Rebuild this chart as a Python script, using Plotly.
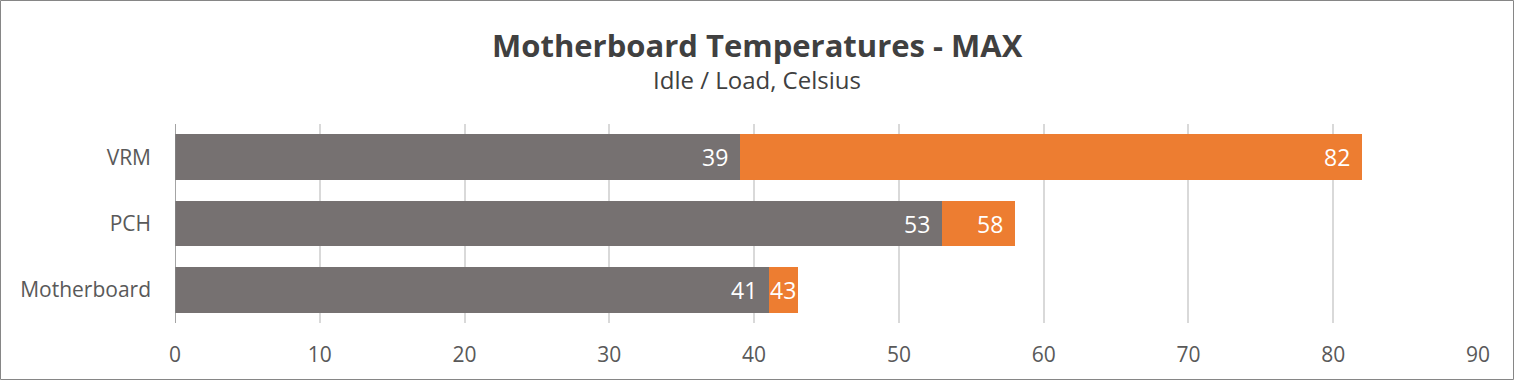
import plotly.graph_objects as go

categories = ["Motherboard", "PCH", "VRM"]
idle = [41, 53, 39]
load = [43, 58, 82]
x_ticks = [0, 10, 20, 30, 40, 50, 60, 70, 80, 90]

W, H = 1514, 380
L, R, T, B = 175, 36, 124, 57
pw, ph = W - L - R, H - T - B

FONT = "Open Sans"
LABEL_SIZE = 23

load_extra = [l - i for l, i in zip(load, idle)]

fig = go.Figure()
fig.add_trace(go.Bar(
    y=categories, x=idle, orientation="h", name="Idle",
    marker=dict(color="#767171", line=dict(width=0)), hoverinfo="skip",
))
fig.add_trace(go.Bar(
    y=categories, x=load_extra, orientation="h", name="Load",
    marker=dict(color="#ED7D31", line=dict(width=0)), hoverinfo="skip",
))

annotations = [
    dict(text="<b>Motherboard Temperatures - MAX</b>", xref="paper", yref="paper",
         x=(W / 2 - L) / pw, y=(H - B - 45) / ph, xanchor="center", yanchor="middle",
         showarrow=False, font=dict(size=31, color="#404040", family=FONT)),
    dict(text="Idle / Load, Celsius", xref="paper", yref="paper",
         x=(W / 2 - L) / pw, y=(H - B - 80) / ph, xanchor="center", yanchor="middle",
         showarrow=False, font=dict(size=24, color="#404040", family=FONT)),
]
for cat, i_val, l_val in zip(categories, idle, load):
    annotations.append(dict(
        text=str(i_val), x=i_val, y=cat, xref="x", yref="y",
        xanchor="right", yanchor="middle", xshift=-10, showarrow=False,
        font=dict(size=LABEL_SIZE, color="white", family=FONT)))
    small = (l_val - i_val) < 3
    annotations.append(dict(
        text=str(l_val), x=(l_val + i_val) / 2 if small else l_val, y=cat,
        xref="x", yref="y",
        xanchor="center" if small else "right", yanchor="middle",
        xshift=0 if small else -10, showarrow=False,
        font=dict(size=LABEL_SIZE, color="white", family=FONT)))

fig.update_layout(
    width=W, height=H,
    margin=dict(l=L, r=R, t=T, b=B, pad=0),
    barmode="stack", bargap=0.31,
    showlegend=False,
    plot_bgcolor="white", paper_bgcolor="white",
    font=dict(family=FONT, color="#595959", size=20),
    xaxis=dict(
        range=[0, 90], tickvals=x_ticks, ticktext=[str(v) for v in x_ticks],
        showgrid=True, gridcolor="#D9D9D9", gridwidth=1.5,
        zeroline=False, showline=False, ticks="",
        tickfont=dict(size=21, color="#595959"), ticklabelstandoff=17,
    ),
    yaxis=dict(
        showgrid=False, zeroline=False, showline=False, ticks="",
        tickfont=dict(size=21, color="#595959"), ticklabelstandoff=23,
    ),
    annotations=annotations,
    shapes=[
        dict(type="line", xref="x", yref="paper", x0=0, x1=0, y0=0, y1=1,
             line=dict(color="#868686", width=1.5), layer="above"),
        dict(type="rect", xref="paper", yref="paper",
             x0=(0.5 - L) / pw, x1=(W - 0.5 - L) / pw,
             y0=-(B - 0.5) / ph, y1=1 + (T - 0.5) / ph,
             line=dict(color="#868686", width=1), fillcolor="rgba(0,0,0,0)"),
    ],
)

fig.write_html("out.html", config={"displayModeBar": False},
               post_script="document.body.style.margin='0';document.body.style.overflow='hidden';")
